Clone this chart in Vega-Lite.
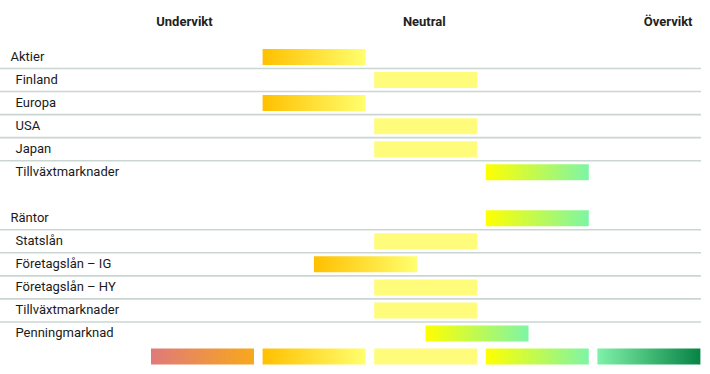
{
  "$schema": "https://vega.github.io/schema/vega-lite/v6.json",
  "width": 710,
  "height": 374,
  "padding": 0,
  "autosize": "none",
  "background": "white",
  "config": {
    "view": {"stroke": null},
    "axis": {"domain": false, "ticks": false, "grid": false, "title": null, "labelFont": "Roboto", "labelFontSize": 13, "labelColor": "#1a1a1a", "labelOverlap": false, "labelFlush": false, "labelBound": false}
  },
  "data": {
    "values": [
      {"row": "Aktier", "pos": 2, "tilt": "under"},
      {"row": "Finland", "pos": 3, "tilt": "neutral"},
      {"row": "Europa", "pos": 2, "tilt": "under"},
      {"row": "USA", "pos": 3, "tilt": "neutral"},
      {"row": "Japan", "pos": 3, "tilt": "neutral"},
      {"row": "Tillväxtmarknader", "pos": 4, "tilt": "over"},
      {"row": "Räntor", "pos": 4, "tilt": "over"},
      {"row": "Statslån", "pos": 3, "tilt": "neutral"},
      {"row": "Företagslån – IG", "pos": 2.46, "tilt": "under"},
      {"row": "Företagslån – HY", "pos": 3, "tilt": "neutral"},
      {"row": "Tillväxtmarknader\u200b", "pos": 3, "tilt": "neutral"},
      {"row": "Penningmarknad", "pos": 3.46, "tilt": "over"},
      {"row": "legend", "pos": 1, "tilt": "under2"},
      {"row": "legend", "pos": 2, "tilt": "under"},
      {"row": "legend", "pos": 3, "tilt": "neutral"},
      {"row": "legend", "pos": 4, "tilt": "over"},
      {"row": "legend", "pos": 5, "tilt": "over2"}
    ]
  },
  "encoding": {
    "y": {
      "field": "row",
      "type": "nominal",
      "scale": {
        "domain": ["Aktier", "Finland", "Europa", "USA", "Japan", "Tillväxtmarknader", "gap", "Räntor", "Statslån", "Företagslån – IG", "Företagslån – HY", "Tillväxtmarknader\u200b", "Penningmarknad", "legend"],
        "range": [45.5, 368],
        "paddingInner": 0,
        "paddingOuter": 0
      },
      "axis": {
        "orient": "left",
        "labelAlign": "left",
        "labelBaseline": "middle",
        "labelPadding": {"condition": {"test": "datum.value == 'Aktier' || datum.value == 'Räntor'", "value": -10}, "value": -15},
        "labelExpr": "datum.value == 'gap' || datum.value == 'legend' ? '' : datum.value"
      }
    }
  },
  "layer": [
    {
      "transform": [{"filter": "indexof(['Aktier','Finland','Europa','USA','Japan','Räntor','Statslån','Företagslån – IG','Företagslån – HY','Tillväxtmarknader\u200b'], datum.row) >= 0"}],
      "mark": {"type": "rule", "color": "#c9d6d2", "strokeWidth": 1.6},
      "encoding": {
        "y": {"field": "row", "type": "nominal", "bandPosition": 1},
        "x": {"datum": -0.8145},
        "x2": {"datum": 5.467}
      }
    },
    {
      "mark": {"type": "rect", "width": 103, "height": 16},
      "encoding": {
        "x": {
          "field": "pos",
          "type": "quantitative",
          "scale": {"domain": [-0.8145, 5.5475], "nice": false, "zero": false},
          "axis": {
            "orient": "top",
            "values": [0.834, 2.983, 5.168],
            "labelExpr": "datum.value < 1.5 ? 'Undervikt' : datum.value < 4 ? 'Neutral' : 'Övervikt'",
            "labelPadding": -25,
            "labelBaseline": "alphabetic",
            "labelAlign": "center",
            "labelFontWeight": "bold",
            "labelColor": "#222222",
            "title": null
          }
        },
        "fill": {
          "condition": [
            {"test": "datum.tilt == 'under2'", "value": {"gradient": "linear", "stops": [{"offset": 0, "color": "#df7a7a"}, {"offset": 1, "color": "#f8a81c"}]}},
            {"test": "datum.tilt == 'under'", "value": {"gradient": "linear", "stops": [{"offset": 0, "color": "#ffc000"}, {"offset": 1, "color": "#ffff6e"}]}},
            {"test": "datum.tilt == 'over'", "value": {"gradient": "linear", "stops": [{"offset": 0, "color": "#ffff00"}, {"offset": 1, "color": "#7ef5a5"}]}},
            {"test": "datum.tilt == 'over2'", "value": {"gradient": "linear", "stops": [{"offset": 0, "color": "#7ff2a8"}, {"offset": 1, "color": "#078345"}]}}
          ],
          "value": "#fffc7c"
        }
      }
    }
  ]
}
